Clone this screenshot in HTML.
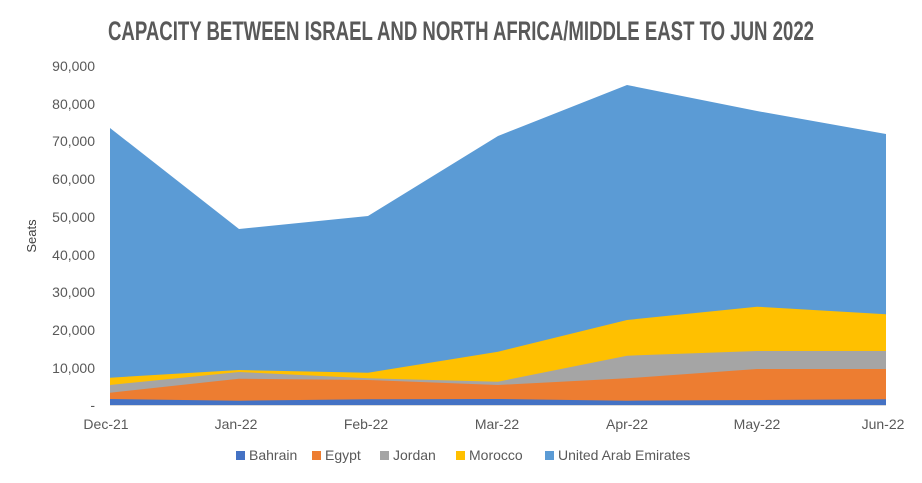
<!DOCTYPE html>
<html><head><meta charset="utf-8"><style>
body{margin:0;background:#fff;width:922px;height:478px;overflow:hidden;font-family:"Liberation Sans",sans-serif}
</style></head><body>
<svg width="922" height="478" xmlns="http://www.w3.org/2000/svg">
<text x="461" y="40" text-anchor="middle" font-family="Liberation Sans Narrow, Liberation Sans, sans-serif" font-weight="bold" font-size="27" fill="#595959" textLength="706" lengthAdjust="spacingAndGlyphs">CAPACITY BETWEEN ISRAEL AND NORTH AFRICA/MIDDLE EAST TO JUN 2022</text>
<g font-size="14" fill="#595959" text-anchor="end">
<text x="95" y="71">90,000</text><text x="95" y="109">80,000</text><text x="95" y="146">70,000</text><text x="95" y="184">60,000</text><text x="95" y="222">50,000</text><text x="95" y="260">40,000</text><text x="95" y="297">30,000</text><text x="95" y="335">20,000</text><text x="95" y="373">10,000</text><text x="95" y="410">-</text>
</g>
<text transform="translate(36,236) rotate(-90)" text-anchor="middle" font-size="13" fill="#404040">Seats</text>
<polygon fill="#5b9bd5" points="110,405 110,128 239,229 368,216 498,136 627,85 757,111 886,134 886,405"/>
<polygon fill="#ffc000" points="110,405 110,377.7 239,370 368,372.7 498,351.7 627,320 757,306.7 886,314.3 886,405"/>
<polygon fill="#a5a5a5" points="110,405 110,385 239,372 368,378.3 498,381.7 627,355.7 757,351 886,351 886,405"/>
<polygon fill="#ed7d31" points="110,405 110,392.7 239,378.7 368,380 498,385 627,378.3 757,369 886,369 886,405"/>
<polygon fill="#4472c4" points="110,405 110,399 239,400.7 368,399.3 498,399 627,400.7 757,400 886,399.3 886,405"/>
<line x1="110" y1="405.5" x2="886" y2="405.5" stroke="#d9d9d9"/>
<g font-size="14" fill="#595959" text-anchor="middle">
<text x="106" y="429">Dec-21</text><text x="236" y="429">Jan-22</text><text x="366" y="429">Feb-22</text><text x="497" y="429">Mar-22</text><text x="627" y="429">Apr-22</text><text x="757" y="429">May-22</text><text x="883" y="429">Jun-22</text>
</g>
<g font-size="14" fill="#595959">
<rect x="236" y="451" width="9" height="9" fill="#4472c4"/><text x="249" y="460">Bahrain</text>
<rect x="312" y="451" width="9" height="9" fill="#ed7d31"/><text x="325" y="460">Egypt</text>
<rect x="380" y="451" width="9" height="9" fill="#a5a5a5"/><text x="393" y="460">Jordan</text>
<rect x="456" y="451" width="9" height="9" fill="#ffc000"/><text x="469" y="460">Morocco</text>
<rect x="545" y="451" width="9" height="9" fill="#5b9bd5"/><text x="558" y="460">United Arab Emirates</text>
</g>
</svg>
</body></html>
